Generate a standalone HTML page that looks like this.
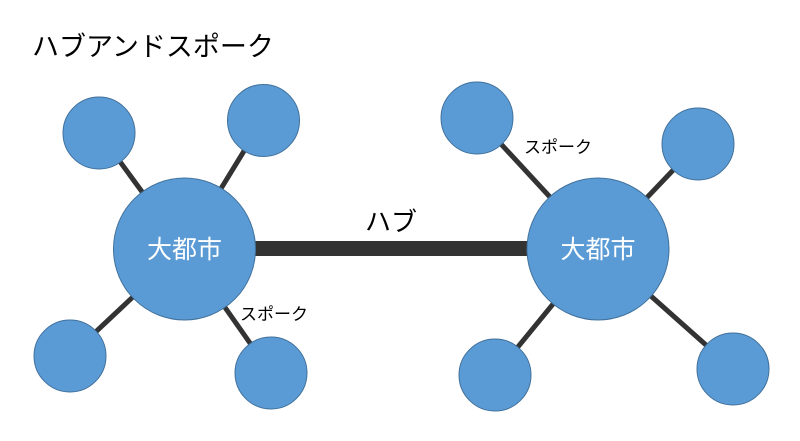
<!DOCTYPE html>
<html><head><meta charset="utf-8"><style>
body{margin:0;background:#fff;}
svg{display:block;}
</style></head><body>
<svg width="800" height="441" xmlns="http://www.w3.org/2000/svg" font-family="'Liberation Sans','Noto Sans CJK JP',sans-serif">
<rect width="800" height="441" fill="#fff"/>
<text x="32" y="56" font-size="27" fill="#000">ハブアンドスポーク</text>
<g stroke="#333" stroke-width="5">
<line x1="99" y1="133" x2="184" y2="249"/>
<line x1="263" y1="120" x2="184" y2="249"/>
<line x1="70" y1="356" x2="184" y2="249"/>
<line x1="271" y1="373" x2="184" y2="249"/>
<line x1="477" y1="118" x2="598" y2="249"/>
<line x1="698" y1="144" x2="598" y2="249"/>
<line x1="495" y1="375" x2="598" y2="249"/>
<line x1="733" y1="369" x2="598" y2="249"/>
</g>
<rect x="250" y="241" width="285" height="15" fill="#333"/>
<g fill="#5b9bd5" stroke="#41719c" stroke-width="1">
<circle cx="99" cy="133" r="36"/>
<circle cx="263.5" cy="120.5" r="36"/>
<circle cx="70" cy="356" r="36"/>
<circle cx="271" cy="373" r="36"/>
<circle cx="477" cy="118" r="36"/>
<circle cx="698" cy="144" r="36"/>
<circle cx="495" cy="375" r="36"/>
<circle cx="733" cy="369" r="36"/>
<circle cx="184.5" cy="249" r="71"/>
<circle cx="598" cy="249" r="71"/>
</g>
<text x="184.5" y="258" font-size="25" fill="#fff" text-anchor="middle">大都市</text>
<text x="598" y="258" font-size="25" fill="#fff" text-anchor="middle">大都市</text>
<text x="391" y="231" font-size="26" fill="#000" text-anchor="middle">ハブ</text>
<text x="240" y="320" font-size="17" fill="#000">スポーク</text>
<text x="524" y="153" font-size="17" fill="#000">スポーク</text>
</svg>
</body></html>
